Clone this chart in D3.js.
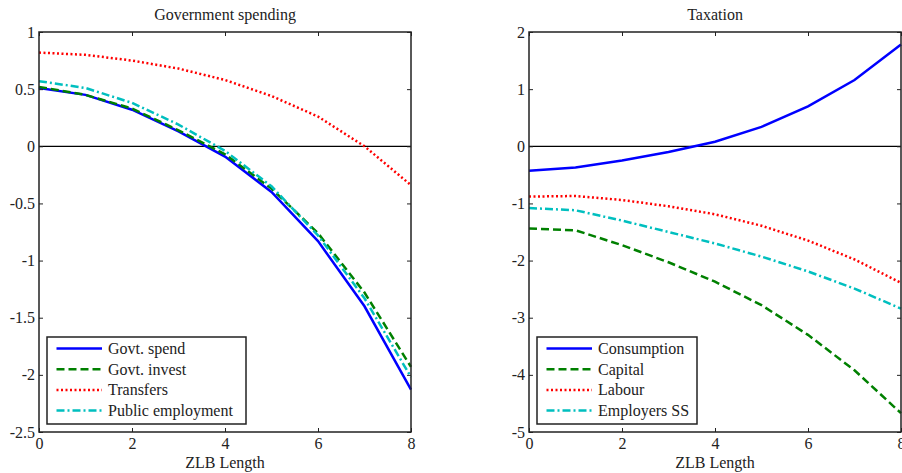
<!DOCTYPE html>
<html lang="en">
  <head>
    <meta charset="UTF-8" />
    <title>ZLB Length</title>
    <script src="https://d3js.org/d3.v7.min.js"></script>
    <style>
      body {
        margin: 0;
        background: white;
      }
    </style>
  </head>
  <body>
    <script>
      const zlb = [0, 1, 2, 3, 4, 5, 6, 7, 8];

      // Government spending panel
      const govtSpend = [0.51, 0.45, 0.32, 0.13, -0.09, -0.4, -0.83, -1.4, -2.13];
      const govtInvest = [0.52, 0.45, 0.33, 0.14, -0.07, -0.37, -0.76, -1.28, -1.93];
      const transfers = [0.82, 0.8, 0.75, 0.68, 0.58, 0.44, 0.26, 0.0, -0.34];
      const publicEmployment = [0.57, 0.51, 0.38, 0.19, -0.04, -0.35, -0.78, -1.33, -2.02];

      // Taxation panel
      const consumption = [-0.43, -0.37, -0.25, -0.1, 0.08, 0.34, 0.7, 1.16, 1.78];
      const capital = [-1.44, -1.47, -1.73, -2.03, -2.37, -2.78, -3.3, -3.92, -4.67];
      const labour = [-0.88, -0.87, -0.94, -1.05, -1.19, -1.39, -1.65, -1.98, -2.39];
      const employersSS = [-1.08, -1.12, -1.3, -1.5, -1.7, -1.93, -2.19, -2.49, -2.84];

      const xTicks = [0, 2, 4, 6, 8];
      const leftYTicks = [1, 0.5, 0, -0.5, -1, -1.5, -2, -2.5];
      const rightYTicks = [2, 1, 0, -1, -2, -3, -4, -5];

      const styles = [
        { color: "#0000ff", dash: null },
        { color: "#008000", dash: "8,4" },
        { color: "#ff0000", dash: "2,2.5" },
        { color: "#00bfbf", dash: "8,3,2,3" }
      ];

      const W = 902, H = 473;
      const font = "'Liberation Serif', 'Times New Roman', serif";
      const fontSize = 16;
      const svg = d3.select("body").append("svg")
        .attr("width", W).attr("height", H)
        .attr("font-family", font);

      function styleText(sel) {
        sel.attr("font-family", font)
          .style("font-size", fontSize + "px")
          .attr("fill", "#222");
      }

      function panel(opts) {
        const x = d3.scaleLinear().domain([0, 8]).range([opts.left, opts.left + 372]);
        const y = d3.scaleLinear().domain(opts.yDomain).range([432, 32]);
        const g = svg.append("g");

        // zero line
        g.append("line")
          .attr("x1", x(0)).attr("x2", x(8))
          .attr("y1", y(0)).attr("y2", y(0))
          .attr("stroke", "black").attr("stroke-width", 1.2);

        const line = d3.line().x((d, i) => x(zlb[i])).y(d => y(d));
        opts.series.forEach((s, i) => {
          g.append("path")
            .datum(s.values)
            .attr("d", line)
            .attr("fill", "none")
            .attr("stroke", styles[i].color)
            .attr("stroke-width", 2.5)
            .attr("stroke-dasharray", styles[i].dash);
        });

        // axes with inward ticks (box style)
        const tick = 4;
        g.append("g")
          .attr("transform", `translate(0,${y.range()[0]})`)
          .call(d3.axisBottom(x).tickValues(xTicks).tickSize(-tick).tickPadding(6).tickFormat(d3.format("d")))
          .call(a => a.select(".domain").remove());
        g.append("g")
          .attr("transform", `translate(0,${y.range()[1]})`)
          .call(d3.axisTop(x).tickValues(xTicks).tickSize(-tick).tickFormat(""))
          .call(a => a.select(".domain").remove());
        g.append("g")
          .attr("transform", `translate(${x.range()[0]},0)`)
          .call(d3.axisLeft(y).tickValues(opts.yTicks).tickSize(-tick).tickPadding(4).tickFormat(d => String(d)))
          .call(a => a.select(".domain").remove());
        g.append("g")
          .attr("transform", `translate(${x.range()[1]},0)`)
          .call(d3.axisRight(y).tickValues(opts.yTicks).tickSize(-tick).tickFormat(""))
          .call(a => a.select(".domain").remove());
        g.selectAll(".tick text").call(styleText);
        g.selectAll(".tick line").attr("stroke", "#222");

        g.append("rect")
          .attr("x", x(0)).attr("y", y.range()[1])
          .attr("width", x(8) - x(0)).attr("height", y.range()[0] - y.range()[1])
          .attr("fill", "none").attr("stroke", "#222").attr("stroke-width", 1.5);

        g.append("text")
          .attr("x", (x(0) + x(8)) / 2).attr("y", 20)
          .attr("text-anchor", "middle")
          .call(styleText)
          .text(opts.title);
        g.append("text")
          .attr("x", (x(0) + x(8)) / 2).attr("y", 468)
          .attr("text-anchor", "middle")
          .call(styleText)
          .text("ZLB Length");

        // legend
        const lg = g.append("g").attr("transform", `translate(${opts.legend[0]},${opts.legend[1]})`);
        lg.append("rect")
          .attr("width", opts.legend[2]).attr("height", 87)
          .attr("fill", "white").attr("stroke", "#222").attr("stroke-width", 1.5);
        opts.series.forEach((s, i) => {
          const ly = 11.5 + i * 20.7;
          lg.append("line")
            .attr("x1", 9.5).attr("x2", 55).attr("y1", ly).attr("y2", ly)
            .attr("stroke", styles[i].color).attr("stroke-width", 2.5)
            .attr("stroke-dasharray", styles[i].dash);
          lg.append("text")
            .attr("x", 61).attr("y", ly + 5.5)
            .call(styleText)
            .text(s.name);
        });
      }

      panel({
        left: 39,
        yDomain: [-2.5, 1],
        yTicks: leftYTicks,
        title: "Government spending",
        legend: [47, 337, 199],
        series: [
          { name: "Govt. spend", values: govtSpend },
          { name: "Govt. invest", values: govtInvest },
          { name: "Transfers", values: transfers },
          { name: "Public employment", values: publicEmployment }
        ]
      });

      panel({
        left: 529,
        yDomain: [-5, 2],
        yTicks: rightYTicks,
        title: "Taxation",
        legend: [537, 337, 160],
        series: [
          { name: "Consumption", values: consumption },
          { name: "Capital", values: capital },
          { name: "Labour", values: labour },
          { name: "Employers SS", values: employersSS }
        ]
      });
    </script>
  </body>
</html>
